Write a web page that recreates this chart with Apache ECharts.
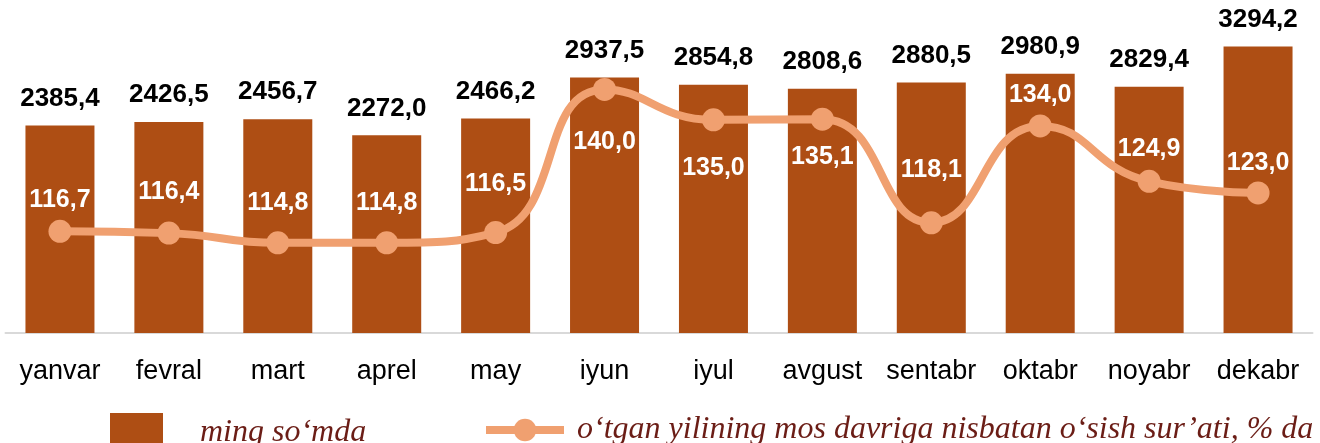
<!DOCTYPE html>
<html>
<head>
<meta charset="utf-8">
<script src="https://cdn.jsdelivr.net/npm/echarts@6/dist/echarts.min.js"></script>
<style>
  html, body { margin: 0; padding: 0; background: #fff; }
  #chart { width: 1320px; height: 443px; }
</style>
</head>
<body>
<div id="chart"></div>
<script>
  'use strict';

  const months = ['yanvar', 'fevral', 'mart', 'aprel', 'may', 'iyun', 'iyul', 'avgust', 'sentabr', 'oktabr', 'noyabr', 'dekabr'];
  const amountValues = [2385.4, 2426.5, 2456.7, 2272.0, 2466.2, 2937.5, 2854.8, 2808.6, 2880.5, 2980.9, 2829.4, 3294.2];
  const growthValues = [116.7, 116.4, 114.8, 114.8, 116.5, 140.0, 135.0, 135.1, 118.1, 134.0, 124.9, 123.0];
  const barName = 'ming so‘mda';
  const lineName = 'o‘tgan yilining mos davriga nisbatan o‘sish sur’ati, % da';

  // vertical shift of each growth label from its point (px)
  const growthLabelDy = [-31, -41, -40, -40, -48, 53, 48, 38, -53, -31, -32, -30];

  const fmt = (v) => v.toFixed(1).replace('.', ',');

  const legendText = {
    fontFamily: 'Liberation Serif',
    fontStyle: 'italic',
    fontSize: 32,
    color: '#6B1D16'
  };

  const chart = echarts.init(document.getElementById('chart'), null, { renderer: 'canvas' });

  chart.setOption({
    animation: false,
    backgroundColor: '#ffffff',
    textStyle: { fontFamily: 'Liberation Sans, Arial, sans-serif' },
    grid: { left: 5.5, right: 7.5, top: 28.5, bottom: 110, containLabel: false },
    legend: [
      {
        data: [barName],
        left: 105,
        top: 408,
        icon: 'rect',
        itemWidth: 53,
        itemHeight: 40,
        textStyle: Object.assign({ padding: [0, 0, 10, 32] }, legendText)
      },
      {
        data: [lineName],
        left: 477,
        top: 409,
        itemWidth: 78,
        itemHeight: 28,
        lineStyle: { width: 8 },
        textStyle: Object.assign({ padding: [0, 0, 0, 8] }, legendText)
      }
    ],
    xAxis: {
      type: 'category',
      data: months,
      axisLine: { lineStyle: { color: '#d9d9d9', width: 2 } },
      axisTick: { show: false },
      axisLabel: { color: '#000', fontSize: 27, margin: 25, interval: 0 }
    },
    yAxis: [
      { type: 'value', min: 0, max: 3500, show: false, splitLine: { show: false } },
      { type: 'value', min: 100, max: 150, show: false, splitLine: { show: false } }
    ],
    series: [
      {
        name: barName,
        type: 'bar',
        data: amountValues,
        barWidth: 69,
        itemStyle: { color: '#AE4E14' },
        label: {
          show: true,
          position: 'top',
          distance: 14,
          color: '#000',
          fontWeight: 'bold',
          fontSize: 26,
          formatter: (p) => fmt(p.value)
        },
        z: 1
      },
      {
        name: lineName,
        type: 'line',
        yAxisIndex: 1,
        data: growthValues.map((v, i) => ({
          value: v,
          label: { offset: [0, growthLabelDy[i]] }
        })),
        smooth: 0.5,
        symbol: 'circle',
        symbolSize: 23,
        lineStyle: { color: '#F0A070', width: 8 },
        itemStyle: { color: '#F0A070' },
        label: {
          show: true,
          position: 'inside',
          color: '#fff',
          fontWeight: 'bold',
          fontSize: 25,
          formatter: (p) => fmt(p.value)
        },
        z: 3
      }
    ]
  });
</script>
</body>
</html>
